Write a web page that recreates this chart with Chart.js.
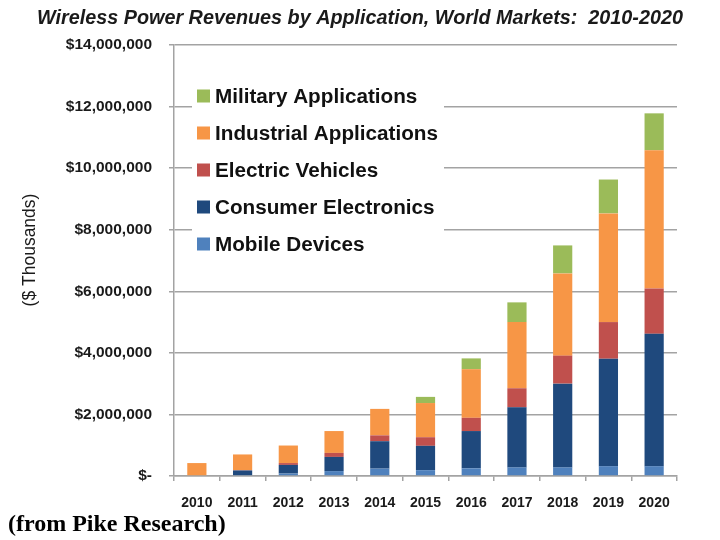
<!DOCTYPE html>
<html>
<head>
<meta charset="utf-8">
<script src="https://cdn.jsdelivr.net/npm/chart.js@4.4.1/dist/chart.umd.min.js"></script>
<style>
  html, body { margin: 0; padding: 0; background: #fff; }
  #wrap { position: relative; width: 720px; height: 540px; }
</style>
</head>
<body>
<div id="wrap"><canvas id="chart" width="720" height="540"></canvas></div>
<script>
// Values in $ thousands
const years = ['2010', '2011', '2012', '2013', '2014', '2015', '2016', '2017', '2018', '2019', '2020'];
const mobileDevices = [0, 30000, 80000, 160000, 240000, 190000, 250000, 280000, 280000, 320000, 320000];
const consumerElectronics = [0, 150000, 280000, 460000, 890000, 790000, 1210000, 1950000, 2720000, 3490000, 4300000];
const electricVehicles = [0, 10000, 60000, 130000, 190000, 280000, 430000, 620000, 910000, 1190000, 1470000];
const industrialApps = [420000, 510000, 570000, 710000, 860000, 1110000, 1580000, 2150000, 2670000, 3530000, 4490000];
const militaryApps = [0, 0, 0, 0, 0, 200000, 350000, 640000, 910000, 1100000, 1200000];
const yTicks = [0, 2000000, 4000000, 6000000, 8000000, 10000000, 12000000, 14000000];

const chartTitle = 'Wireless Power Revenues by Application, World Markets:  2010-2020';
const yTitle = '($ Thousands)';
const sourceNote = '(from Pike Research)';

const gridColor = '#a3a3a3';
const sans = 'Liberation Sans, Arial, sans-serif';

// Title, axis title, in-plot legend and source note
const decorations = {
    id: 'decorations',
    afterDatasetsDraw(chart) {
        const ctx = chart.ctx;
        const area = chart.chartArea;
        ctx.save();

        ctx.fillStyle = '#1a1a1a';
        ctx.font = 'italic bold 19.8px ' + sans;
        ctx.textAlign = 'center';
        ctx.textBaseline = 'middle';
        ctx.fillText(chartTitle, 360, 19);

        ctx.save();
        ctx.translate(30, 250);
        ctx.rotate(-Math.PI / 2);
        ctx.font = '17.5px ' + sans;
        ctx.fillText(yTitle, 0, 0);
        ctx.restore();

        // legend box sits over the gridlines, top entry is the last dataset
        ctx.fillStyle = '#fff';
        ctx.fillRect(area.left + 18, 80, 252, 180);
        const sets = chart.data.datasets.slice().reverse();
        ctx.textAlign = 'left';
        ctx.font = 'bold 20.7px ' + sans;
        sets.forEach((ds, i) => {
            const y = 96 + i * 37;
            ctx.fillStyle = ds.backgroundColor;
            ctx.fillRect(197, y - 6.5, 13, 13);
            ctx.fillStyle = '#111';
            ctx.fillText(ds.label, 215, y + 1);
        });

        ctx.font = 'bold 24px Liberation Serif, Times New Roman, serif';
        ctx.fillStyle = '#000';
        ctx.textBaseline = 'alphabetic';
        ctx.fillText(sourceNote, 8, 531);
        ctx.restore();
    }
};

const ctx = document.getElementById('chart').getContext('2d');
new Chart(ctx, {
    type: 'bar',
    data: {
        labels: years,
        datasets: [
            { label: 'Mobile Devices', data: mobileDevices, backgroundColor: '#4f81bd' },
            { label: 'Consumer Electronics', data: consumerElectronics, backgroundColor: '#1f497d' },
            { label: 'Electric Vehicles', data: electricVehicles, backgroundColor: '#c0504d' },
            { label: 'Industrial Applications', data: industrialApps, backgroundColor: '#f79646' },
            { label: 'Military Applications', data: militaryApps, backgroundColor: '#9bbb59' }
        ]
    },
    options: {
        responsive: false,
        animation: false,
        layout: {
            padding: { top: 45, right: 43, bottom: 24, left: 0 }
        },
        datasets: {
            bar: {
                categoryPercentage: 1,
                barPercentage: 0.42,
                borderWidth: 0
            }
        },
        scales: {
            x: {
                stacked: true,
                offset: true,
                afterFit: s => { s.height = 40; },
                border: { color: gridColor, width: 1.5 },
                grid: {
                    offset: true,
                    drawOnChartArea: false,
                    color: gridColor,
                    lineWidth: 1.5,
                    tickLength: 5
                },
                ticks: {
                    color: '#1a1a1a',
                    font: { family: sans, size: 14, weight: 'bold' },
                    padding: 14,
                    maxRotation: 0
                }
            },
            y: {
                stacked: true,
                min: 0,
                max: 14000000,
                afterFit: s => { s.width = 174; },
                afterBuildTicks: s => { s.ticks = yTicks.map(v => ({ value: v })); },
                border: { color: gridColor, width: 1.5 },
                grid: {
                    color: gridColor,
                    lineWidth: 1.5,
                    tickLength: 5
                },
                ticks: {
                    color: '#1a1a1a',
                    font: { family: sans, size: 15.5, weight: 'bold' },
                    padding: 17,
                    callback: v => v === 0 ? '$-' : '$' + v.toLocaleString('en-US')
                }
            }
        },
        plugins: {
            legend: { display: false },
            title: { display: false },
            tooltip: { enabled: false }
        }
    },
    plugins: [decorations]
});
</script>
</body>
</html>
